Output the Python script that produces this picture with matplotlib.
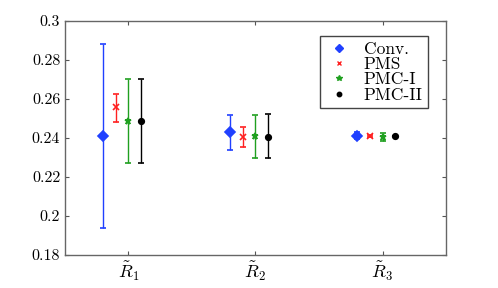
import numpy as np
import matplotlib
matplotlib.use("Agg")
from matplotlib import pyplot as plt
from matplotlib.lines import Line2D
from matplotlib.ticker import FuncFormatter

plt.rcParams['mathtext.fontset'] = 'cm'
plt.rcParams['font.family'] = ['cmr10', 'DejaVu Serif']
plt.rcParams['axes.unicode_minus'] = False

categories = [r'$\tilde{R}_1$', r'$\tilde{R}_2$', r'$\tilde{R}_3$']
methods = ['Conv.', 'PMS', 'PMC-I', 'PMC-II']

# mean, lower end, upper end of each bar
conv_mean = [0.2410, 0.2429, 0.2412]
conv_low = [0.1937, 0.2340, 0.2393]
conv_high = [0.2884, 0.2518, 0.2432]

pms_mean = [0.2557, 0.2407, 0.2409]
pms_low = [0.2484, 0.2352, 0.2404]
pms_high = [0.2627, 0.2458, 0.2414]

pmc1_mean = [0.2487, 0.2410, 0.2403]
pmc1_low = [0.2270, 0.2296, 0.2386]
pmc1_high = [0.2703, 0.2518, 0.2424]

pmc2_mean = [0.2487, 0.2407, 0.2410]
pmc2_low = [0.2270, 0.2296, 0.2408]
pmc2_high = [0.2703, 0.2521, 0.2412]

fig = plt.figure(figsize=(4.98, 2.88), dpi=100)
ax = fig.add_axes([0.1305, 0.1146, 0.7651, 0.8124])

x = np.arange(1, 4)
series = [
    (conv_mean, conv_low, conv_high, '#2040ff', 'D', 4.8, -0.2),
    (pms_mean, pms_low, pms_high, '#ff2020', 'x', 4, -0.1),
    (pmc1_mean, pmc1_low, pmc1_high, '#20a020', '*', 5, 0.0),
    (pmc2_mean, pmc2_low, pmc2_high, 'k', 'o', 4, 0.1),
]
handles = []
for (m, lo, hi, c, mk, ms, off), name in zip(series, methods):
    m = np.array(m)
    err = [m - np.array(lo), np.array(hi) - m]
    ax.errorbar(x + off, m, yerr=err, fmt=mk, color=c, ms=ms, mew=1.2,
                elinewidth=1, capsize=2.5, capthick=1)
    handles.append(Line2D([], [], ls='none', marker=mk, color=c,
                          ms=ms - 0.8, mew=1, label=name))

ax.set_xlim(0.5, 3.5)
ax.set_ylim(0.18, 0.3)
ax.set_xticks(x)
ax.set_xticklabels(categories, fontsize=13)
ax.set_yticks(np.arange(0.18, 0.301, 0.02))
ax.yaxis.set_major_formatter(FuncFormatter(lambda v, p: '%g' % round(v, 2)))
ax.tick_params(axis='y', labelsize=11.5)
ax.tick_params(direction='in', top=True, right=True, length=3, color='#555555')
for s in ax.spines.values():
    s.set_color('#666666')
    s.set_linewidth(1)

leg = ax.legend(handles=handles, loc='upper right', bbox_to_anchor=(0.952, 0.935),
                fontsize=12.5, fancybox=False, edgecolor='#444444', framealpha=1,
                handlelength=1.6, handletextpad=0.6, borderpad=0.3,
                labelspacing=0.0, borderaxespad=0)
leg.get_frame().set_linewidth(1)

fig.savefig("out.png", dpi=100)
